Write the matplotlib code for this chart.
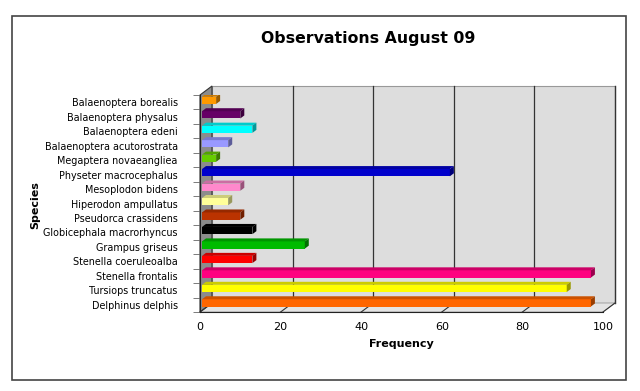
import matplotlib
matplotlib.use('Agg')
import matplotlib.pyplot as plt
from matplotlib.patches import Polygon, Rectangle
from matplotlib.colors import to_rgb
import numpy as np

# data, bottom to top
species = ['Delphinus delphis', 'Tursiops truncatus', 'Stenella frontalis',
           'Stenella coeruleoalba', 'Grampus griseus', 'Globicephala macrorhyncus',
           'Pseudorca crassidens', 'Hiperodon ampullatus', 'Mesoplodon bidens',
           'Physeter macrocephalus', 'Megaptera novaeangliea', 'Balaenoptera acutorostrata',
           'Balaenoptera edeni', 'Balaenoptera physalus', 'Balaenoptera borealis']
frequency = [97, 91, 97, 13, 26, 13, 10, 7, 10, 62, 4, 7, 13, 10, 4]
colors = ['#FF6600', '#FFFF00', '#FF0080', '#FF0000', '#00BB00', '#000000',
          '#BB3300', '#FFFF99', '#FF88CC', '#0000CC', '#66CC00', '#9999FF',
          '#00FFFF', '#660066', '#FF9900']
xticks = [0, 20, 40, 60, 80, 100]

W, H = 640, 391
fig = plt.figure(figsize=(W/100, H/100), dpi=100, facecolor='white')
plt.rcParams['font.family'] = 'DejaVu Sans'

# frame
fig.add_artist(Rectangle((12/W, 1-380/H), 614/W, 364/H, transform=fig.transFigure,
                         fill=False, edgecolor='#444444', linewidth=1.2))

axl, axr, axt, axb = 200, 603, 95, 312
ax = fig.add_axes([axl/W, 1-axb/H, (axr-axl)/W, (axb-axt)/H])
ax.set_facecolor('none')
n = len(species)
ax.set_xlim(0, 100)
ax.set_ylim(-0.5, n-0.5)

# pixel -> data scales
sx = 100/(axr-axl)
sy = n/(axb-axt)
dx, dy = 12*sx, 9*sy      # depth of the box
bx, by = 4*sx, 3*sy       # depth of a bar
y0, y1 = -0.5, n-0.5

# back wall
ax.add_patch(Rectangle((dx, y0+dy), 100, n, facecolor='#DDDDDD', edgecolor='#999999',
                       linewidth=0.8, clip_on=False, zorder=0))
ax.plot([100+dx, 100+dx], [y0+dy, y1+dy], color='#333333', lw=1, clip_on=False, zorder=1)
for t in xticks[1:-1]:
    ax.plot([t+dx, t+dx], [y0+dy, y1+dy], color='#333333', lw=0.9, clip_on=False, zorder=1)
# floor
ax.add_patch(Polygon([(0, y0), (100, y0), (100+dx, y0+dy), (dx, y0+dy)], closed=True,
                     facecolor='#E4E4E4', edgecolor='#999999', lw=0.6, clip_on=False, zorder=1))
for t in xticks:
    ax.plot([t, t+dx], [y0, y0+dy], color='#333333', lw=0.8, clip_on=False, zorder=2)
# left wall
ax.add_patch(Polygon([(0, y0), (0, y1), (dx, y1+dy), (dx, y0+dy)], closed=True,
                     facecolor='#8C8C8C', edgecolor='#333333', lw=0.8, clip_on=False, zorder=1))

# bars
for i, (v, c) in enumerate(zip(frequency, colors)):
    rgb = np.array(to_rgb(c))
    top_c = rgb*0.8
    side_c = rgb*0.6
    x0 = 2*sx
    b, t = i-0.12, i+0.38
    ax.add_patch(Rectangle((x0, b), v-x0, t-b, facecolor=c, edgecolor='none', zorder=3))
    ax.add_patch(Polygon([(x0, t), (v, t), (v+bx, t+by), (x0+bx, t+by)], closed=True,
                         facecolor=top_c, edgecolor='none', zorder=3))
    ax.add_patch(Polygon([(v, b), (v, t), (v+bx, t+by), (v+bx, b+by)], closed=True,
                         facecolor=side_c, edgecolor='none', zorder=3))

for s in ['top', 'right']:
    ax.spines[s].set_visible(False)
ax.spines['left'].set_color('#222222')
ax.spines['bottom'].set_color('#222222')
ax.spines['left'].set_zorder(4)

ax.set_xticks(xticks)
ax.set_xticklabels([str(t) for t in xticks], fontsize=8)
ax.tick_params(axis='x', length=0, pad=7)
ax.set_yticks(range(n))
ax.set_yticklabels(species, fontsize=6.9)
ax.tick_params(axis='y', length=0, pad=16)
ax.set_yticks(np.arange(-0.5, n), minor=True)
ax.tick_params(axis='y', which='minor', length=5, color='#666666')

fig.text(368/W, 1-38/H, 'Observations August 09', ha='center', va='center',
         fontsize=11.3, fontweight='bold')
fig.text(401/W, 1-344/H, 'Frequency', ha='center', va='center', fontsize=8, fontweight='bold')
fig.text(35/W, 1-205/H, 'Species', ha='center', va='center', rotation=90,
         fontsize=8, fontweight='bold')

fig.savefig('out.png', dpi=100, facecolor='white')
